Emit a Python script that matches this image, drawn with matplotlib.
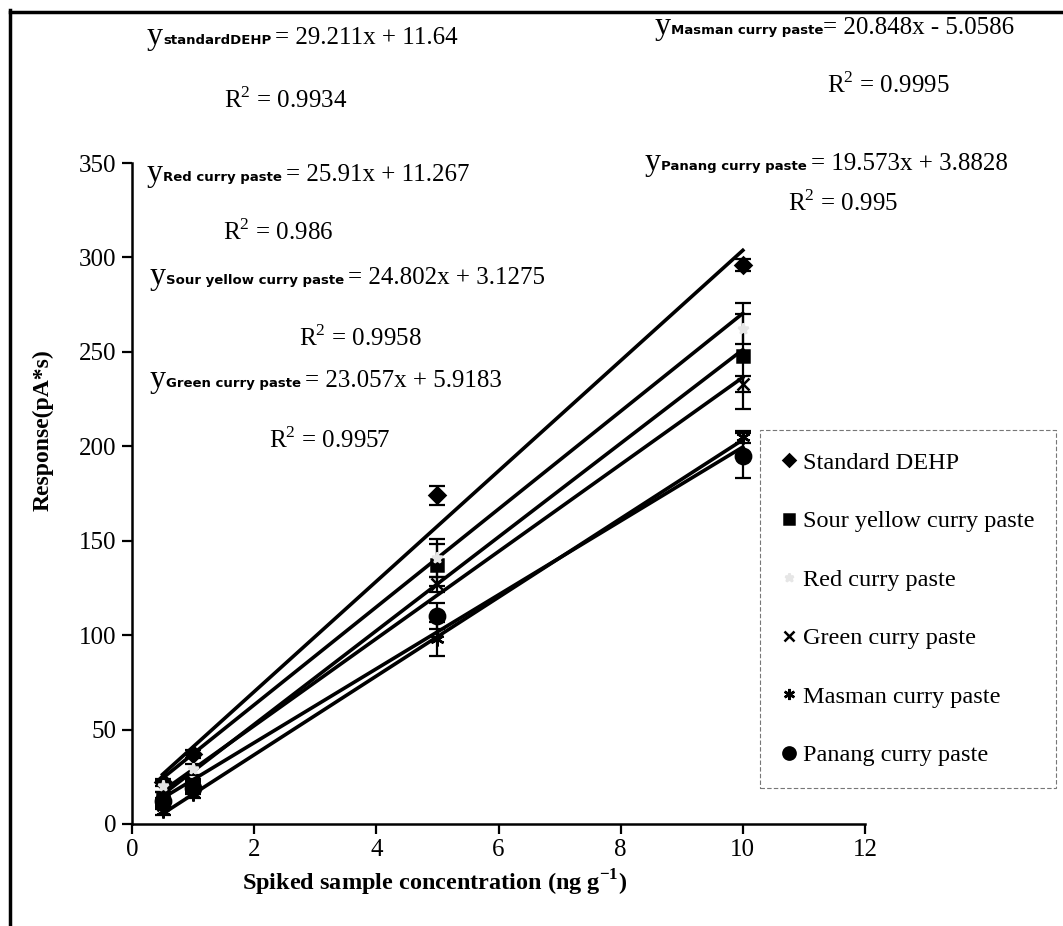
import numpy as np
import matplotlib
matplotlib.use('Agg')
from matplotlib import pyplot as plt
from matplotlib.lines import Line2D

plt.rcParams['font.family'] = ['Liberation Serif', 'DejaVu Serif']
plt.rcParams['mathtext.fontset'] = 'custom'
plt.rcParams['mathtext.rm'] = 'Liberation Serif'
plt.rcParams['mathtext.bf'] = 'Liberation Serif:bold'

# spiked concentrations (ng/g)
conc = [0.5, 1, 5, 10]

names = ['Standard DEHP', 'Sour yellow curry paste', 'Red curry paste',
         'Green curry paste', 'Masman curry paste', 'Panang curry paste']
dehp = [22, 37, 174, 296]
sour = [14, 20, 137, 248]
red = [20, 29, 141, 262]
green = [10, 22, 127, 233]
masman = [7, 16, 98, 205]
panang = [12, 19, 110, 195]

dehp_err = [2, 2, 5, 3]
sour_err = [3, 3, 11, 28]
red_err = [3, 3, 10, 8]
green_err = [2, 2, 4, 4]
masman_err = [2, 2, 9, 3]
panang_err = [2, 3, 7, 12]

slopes = [29.211, 24.802, 25.91, 23.057, 20.848, 19.573]
intercepts = [11.64, 3.1275, 11.267, 5.9183, -5.0586, 3.8828]

eq_subs = ['standardDEHP', 'Sour yellow curry paste', 'Red curry paste',
           'Green curry paste', 'Masman curry paste', 'Panang curry paste']
eq_rest = ['= 29.211x + 11.64', '= 24.802x + 3.1275', '= 25.91x + 11.267',
           '= 23.057x + 5.9183', '= 20.848x - 5.0586', '= 19.573x + 3.8828']
r2_labels = ['R$^2$ = 0.9934', 'R$^2$ = 0.9958', 'R$^2$ = 0.986',
             'R$^2$ = 0.9957', 'R$^2$ = 0.9995', 'R$^2$ = 0.995']

series = [dehp, sour, red, green, masman, panang]
errors = [dehp_err, sour_err, red_err, green_err, masman_err, panang_err]
markers = ['D', 's', '*', 'x', (6, 2, 0), 'o']
msizes = [8, 9, 8, 9, 10, 11]
mcolors = ['black', 'black', '#e6e6e6', 'black', 'black', 'black']

W, H = 1063, 926
fig = plt.figure(figsize=(W / 100, H / 100), dpi=100)
ax = fig.add_axes([132 / W, 1 - 824 / H, (865 - 132) / W, (824 - 163) / H])

xfit = np.array([conc[0], conc[-1]])
for i in range(6):
    ax.plot(xfit, slopes[i] * xfit + intercepts[i], color='black', lw=2.6,
            zorder=2)
for i in range(6):
    ax.errorbar(conc, series[i], yerr=errors[i], fmt='none', ecolor='black',
                elinewidth=1.6, capsize=6, capthick=1.6, zorder=3)
    ax.plot(conc, series[i], linestyle='none', marker=markers[i],
            markersize=msizes[i], color=mcolors[i], mec=mcolors[i],
            mew=1.8, label=names[i], zorder=4)

ax.set_xlim(0, 12)
ax.set_ylim(0, 350)
ax.set_xticks(range(0, 13, 2))
ax.set_yticks(range(0, 351, 50))
for s in ['top', 'right']:
    ax.spines[s].set_visible(False)
for s in ['left', 'bottom']:
    ax.spines[s].set_linewidth(1.8)
ax.tick_params(direction='out', length=7, width=1.6, labelsize=18, pad=4)
ax.set_xlabel('Spiked sample concentration (ng g$^{\\mathbf{-1}}$)',
              fontsize=17.5, fontweight='bold')
ax.xaxis.set_label_coords((435 - 132) / 733, (824 - 868) / 661)
ax.set_ylabel('Response(pA*s)', fontsize=17, fontweight='bold')
ax.yaxis.set_label_coords((54 - 132) / 733, (824 - 430) / 661)

leg = fig.legend(loc='upper left', bbox_to_anchor=(760 / W, 1 - 430 / H),
                 bbox_transform=fig.transFigure, fontsize=17.5, frameon=True,
                 fancybox=False, labelspacing=1.5, handletextpad=0.25,
                 handlelength=0.6, borderpad=0.9, borderaxespad=0,
                 markerscale=0.8)
leg.get_frame().set_edgecolor('#555555')
leg.get_frame().set_linestyle((0, (4, 2)))
leg.get_frame().set_linewidth(0.8)

# equation annotations: start x and baseline y in figure pixels
eq_pos = [(147, 44), (150, 284), (147, 181), (150, 387), (655, 34), (645, 170)]
gaps = [4, 4, 4, 4, 0, 4]
r2_pos = [(286, 100), (360, 338), (278, 232), (330, 440), (888, 85), (843, 203)]
renderer = fig.canvas.get_renderer()
for i in range(6):
    yb = 1 - eq_pos[i][1] / H
    t = fig.text(eq_pos[i][0] / W, yb, 'y', fontsize=23, va='baseline')
    xe = t.get_window_extent(renderer).x1
    t = fig.text(xe / W, yb, eq_subs[i], fontsize=9.5, fontweight='bold',
                 family='DejaVu Sans', va='baseline')
    xe = t.get_window_extent(renderer).x1
    fig.text((xe + gaps[i]) / W, yb, eq_rest[i], fontsize=18, va='baseline')
    fig.text(r2_pos[i][0] / W, 1 - r2_pos[i][1] / H, r2_labels[i],
             ha='center', va='center', fontsize=18)

# outer frame of the scanned figure
fig.add_artist(Line2D([10 / W, 10 / W], [0, 1 - 10 / H], color='black',
                      lw=2.5, transform=fig.transFigure))
fig.add_artist(Line2D([10 / W, 1], [1 - 12 / H, 1 - 12 / H], color='black',
                      lw=2.5, transform=fig.transFigure))

fig.savefig('out.png', dpi=100)
